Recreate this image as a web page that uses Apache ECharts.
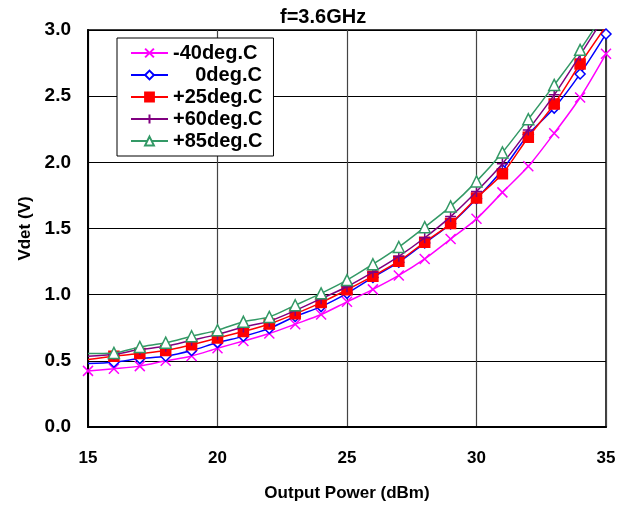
<!DOCTYPE html>
<html>
<head>
<meta charset="utf-8">
<script src="https://cdn.jsdelivr.net/npm/echarts@6/dist/echarts.min.js"></script>
<style>html,body{margin:0;padding:0;background:#fff;}#c{width:625px;height:511px;}</style>
</head>
<body>
<div id="c"></div>
<script>
const powerDbm = [15,16,17,18,19,20,21,22,23,24,25,26,27,28,29,30,31,32,33,34,35];
const seriesNames = ['-40deg.C','0deg.C','+25deg.C','+60deg.C','+85deg.C'];
const vM40 = [0.424,0.44,0.46,0.50,0.537,0.595,0.65,0.706,0.777,0.85,0.946,1.04,1.145,1.27,1.42,1.573,1.773,1.97,2.22,2.49,2.82];
const v0   = [0.48,0.49,0.517,0.535,0.578,0.638,0.685,0.745,0.835,0.91,1.01,1.13,1.245,1.39,1.535,1.725,1.944,2.21,2.41,2.668,2.97];
const v25  = [0.51,0.535,0.555,0.578,0.622,0.672,0.722,0.778,0.855,0.94,1.037,1.14,1.253,1.397,1.537,1.73,1.914,2.19,2.44,2.743,3.03];
const v60  = [0.535,0.55,0.585,0.61,0.655,0.70,0.755,0.80,0.88,0.97,1.06,1.17,1.29,1.43,1.59,1.78,1.99,2.245,2.51,2.81,3.12];
const v85  = [0.555,0.56,0.605,0.637,0.686,0.732,0.795,0.832,0.92,1.01,1.11,1.23,1.36,1.51,1.667,1.856,2.075,2.326,2.585,2.85,3.15];
const yTicks = [0.0,0.5,1.0,1.5,2.0,2.5,3.0];

const colors = ['#FF00FF','#0000FF','#FF0000','#800080','#339966'];
const values = [vM40, v0, v25, v60, v85];
const symbols = [
  'path://M0,0L10,10M10,0L0,10',
  'diamond',
  'rect',
  'path://M5,0L5,10M0,5L10,5',
  'triangle'
];
const symbolSizes = [10, 10, 10, 11, 11];
const fills = ['#FF00FF','#ffffff','#FF0000','#800080','#ffffff'];
const legendLabels = {'-40deg.C':'-40deg.C','0deg.C':'    0deg.C','+25deg.C':'+25deg.C','+60deg.C':'+60deg.C','+85deg.C':'+85deg.C'};

const chart = echarts.init(document.getElementById('c'), null, {renderer:'canvas'});
const font = 'Liberation Sans, Arial, sans-serif';

const series = seriesNames.map((name, i) => ({
  name: name,
  type: 'line',
  smooth: 0.3,
  symbol: symbols[i],
  symbolSize: symbolSizes[i],
  showAllSymbol: true,
  clip: true,
  z: 2 + i,
  lineStyle: {color: colors[i], width: 1.5},
  itemStyle: {color: fills[i], borderColor: colors[i], borderWidth: 1.5},
  emphasis: {disabled: true},
  data: powerDbm.map((x, k) => {
    const item = {value: [x, values[i][k]]};
    if (k === 0 && i !== 0) item.symbol = 'none';
    return item;
  })
}));

chart.setOption({
  animation: false,
  backgroundColor: '#fff',
  title: {
    text: 'f=3.6GHz',
    left: 275, top: 2,
    textStyle: {fontFamily: font, fontWeight: 'bold', fontSize: 20, color: '#000'}
  },
  grid: {left: 88, right: 19, top: 30, bottom: 84, show: true, borderColor: '#000', borderWidth: 1.5, backgroundColor: 'transparent'},
  legend: {
    orient: 'vertical',
    left: 117, top: 38,
    padding: [5, 11, 5, 13],
    itemWidth: 37, itemHeight: 11, itemGap: 2,
    backgroundColor: '#fff',
    borderColor: '#000', borderWidth: 1,
    data: seriesNames,
    formatter: n => legendLabels[n],
    textStyle: {fontFamily: font, fontWeight: 'bold', fontSize: 20, lineHeight: 18, color: '#000', padding: [0,0,0,0]},
    selectedMode: false
  },
  xAxis: {
    type: 'value', min: 15, max: 35, interval: 5,
    name: 'Output Power (dBm)', nameLocation: 'middle', nameGap: 58,
    nameTextStyle: {fontFamily: font, fontWeight: 'bold', fontSize: 17, color: '#000'},
    axisLine: {show: true, lineStyle: {color: '#000', width: 2}},
    axisTick: {show: false},
    axisLabel: {fontFamily: font, fontWeight: 'bold', fontSize: 17, color: '#000', margin: 23},
    splitLine: {show: true, lineStyle: {color: '#444', width: 1.2}}
  },
  yAxis: {
    type: 'value', min: 0, max: 3, interval: 0.5,
    name: 'Vdet (V)', nameLocation: 'middle', nameGap: 51, nameRotate: 90,
    nameTextStyle: {fontFamily: font, fontWeight: 'bold', fontSize: 17, color: '#000'},
    axisLine: {show: true, lineStyle: {color: '#000', width: 2}},
    axisTick: {show: false},
    axisLabel: {fontFamily: font, fontWeight: 'bold', fontSize: 19, color: '#000', margin: 17,
      formatter: v => yTicks.includes(v) ? v.toFixed(1) : ''},
    splitLine: {show: true, lineStyle: {color: '#000', width: 1}}
  },
  series: series
});
</script>
</body>
</html>
